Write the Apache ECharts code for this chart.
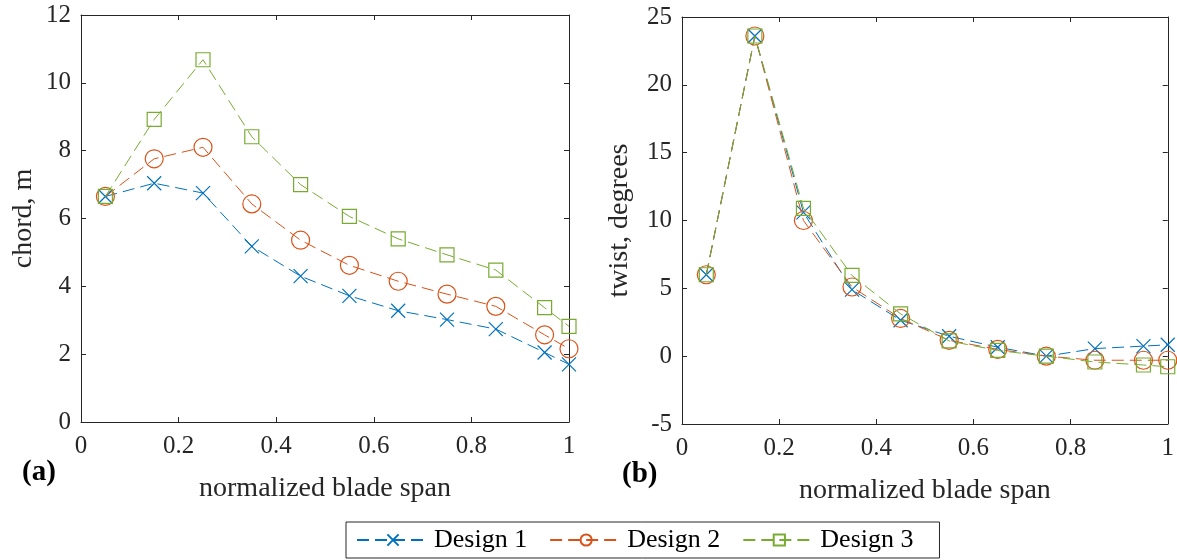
<!DOCTYPE html>
<html><head><meta charset="utf-8">
<script src="https://cdn.jsdelivr.net/npm/echarts@6/dist/echarts.min.js"></script>
<style>html,body{margin:0;padding:0;background:#fff}#c{width:1177px;height:560px}</style>
</head><body><div id="c"></div>
<script>
var span = [0.05, 0.15, 0.25, 0.35, 0.45, 0.55, 0.65, 0.75, 0.85, 0.95, 1.0];
var seriesNames = ['Design 1', 'Design 2', 'Design 3'];
var chord1 = [6.65, 7.04, 6.75, 5.18, 4.3, 3.72, 3.28, 3.02, 2.74, 2.05, 1.7];
var chord2 = [6.65, 7.76, 8.1, 6.43, 5.36, 4.62, 4.15, 3.77, 3.41, 2.57, 2.16];
var chord3 = [6.65, 8.92, 10.68, 8.41, 7.0, 6.06, 5.4, 4.93, 4.48, 3.37, 2.82];
var twist1 = [6.0, 23.6, 10.6, 4.9, 2.65, 1.47, 0.66, 0.0, 0.56, 0.74, 0.84];
var twist2 = [6.0, 23.6, 10.0, 5.1, 2.78, 1.17, 0.5, 0.0, -0.3, -0.3, -0.3];
var twist3 = [6.0, 23.6, 10.9, 5.95, 3.12, 1.12, 0.42, 0.0, -0.43, -0.65, -0.78];
var xTicks = [0, 0.2, 0.4, 0.6, 0.8, 1];

var colors = ['#0072BD', '#D95319', '#77AC30'];
var symbols = ['path://M0,0L10,10M0,10L10,0', 'circle', 'rect'];
var symSizes = [14, 18, 14];
var axisColor = '#262626';
var font = 'Liberation Serif';

function pairs(xs, ys) { return xs.map(function (x, i) { return [x, ys[i]]; }); }

function mkX(gi, pos, labels, name) {
  return {
    type: 'value', gridIndex: gi, position: pos, min: 0, max: 1, interval: 0.2,
    axisLine: { show: true, onZero: false, lineStyle: { color: axisColor, width: 1 } },
    axisTick: { show: true, inside: true, length: 5, lineStyle: { color: axisColor } },
    axisLabel: { show: labels, color: axisColor, fontFamily: font, fontSize: 25, margin: 12,
      formatter: function (v) { return String(+v.toFixed(1)); } },
    splitLine: { show: false },
    name: name || '', nameLocation: 'middle', nameGap: 53,
    nameTextStyle: { color: axisColor, fontFamily: font, fontSize: 28 }
  };
}
function mkY(gi, pos, labels, min, max, step, name, gap) {
  return {
    type: 'value', gridIndex: gi, position: pos, min: min, max: max, interval: step,
    axisLine: { show: true, onZero: false, lineStyle: { color: axisColor, width: 1 } },
    axisTick: { show: true, inside: true, length: 5, lineStyle: { color: axisColor } },
    axisLabel: { show: labels, color: axisColor, fontFamily: font, fontSize: 25, margin: 10 },
    splitLine: { show: false },
    name: name || '', nameLocation: 'middle', nameGap: gap || 40,
    nameTextStyle: { color: axisColor, fontFamily: font, fontSize: 28 }
  };
}

var chordData = [chord1, chord2, chord3];
var twistData = [twist1, twist2, twist3];
var series = [];
function addSeries(dataSets, xi, yi) {
  dataSets.forEach(function (d, i) {
    series.push({
      name: seriesNames[i], type: 'line', xAxisIndex: xi, yAxisIndex: yi,
      data: pairs(span, d), symbol: symbols[i], symbolSize: symSizes[i],
      clip: false, z: 3 + i,
      lineStyle: { color: colors[i], width: 1, type: [12, 6] },
      itemStyle: { color: 'rgba(255,255,255,0)', borderColor: colors[i], borderWidth: 1.2 },
      emphasis: { disabled: true }, animation: false
    });
  });
}
addSeries(chordData, 0, 0);
addSeries(twistData, 2, 2);

var chart = echarts.init(document.getElementById('c'), null, { renderer: 'canvas' });
chart.setOption({
  animation: false,
  backgroundColor: '#fff',
  grid: [
    { left: 81, top: 15, width: 488, height: 407 },
    { left: 682, top: 17, width: 488, height: 407 }
  ],
  xAxis: [
    mkX(0, 'bottom', true, 'normalized blade span'), mkX(0, 'top', false),
    mkX(1, 'bottom', true, 'normalized blade span'), mkX(1, 'top', false)
  ],
  yAxis: [
    mkY(0, 'left', true, 0, 12, 2, 'chord, m', 43), mkY(0, 'right', false, 0, 12, 2),
    mkY(1, 'left', true, -5, 25, 5, 'twist, degrees', 48), mkY(1, 'right', false, -5, 25, 5)
  ],
  legend: {
    data: seriesNames, left: 346, top: 522, orient: 'horizontal',
    itemWidth: 72, itemHeight: 14, itemGap: 22, padding: [5, 26, 5, 10],
    borderColor: '#262626', borderWidth: 1, backgroundColor: '#fff',
    textStyle: { color: '#000', fontFamily: font, fontSize: 26 },
    selectedMode: false
  },
  graphic: [
    { type: 'text', left: 22, top: 458, style: { text: '(a)', font: 'bold 29px "Liberation Serif"', fill: '#000' } },
    { type: 'text', left: 622, top: 460, style: { text: '(b)', font: 'bold 29px "Liberation Serif"', fill: '#000' } }
  ],
  series: series
});
</script>
</body></html>
